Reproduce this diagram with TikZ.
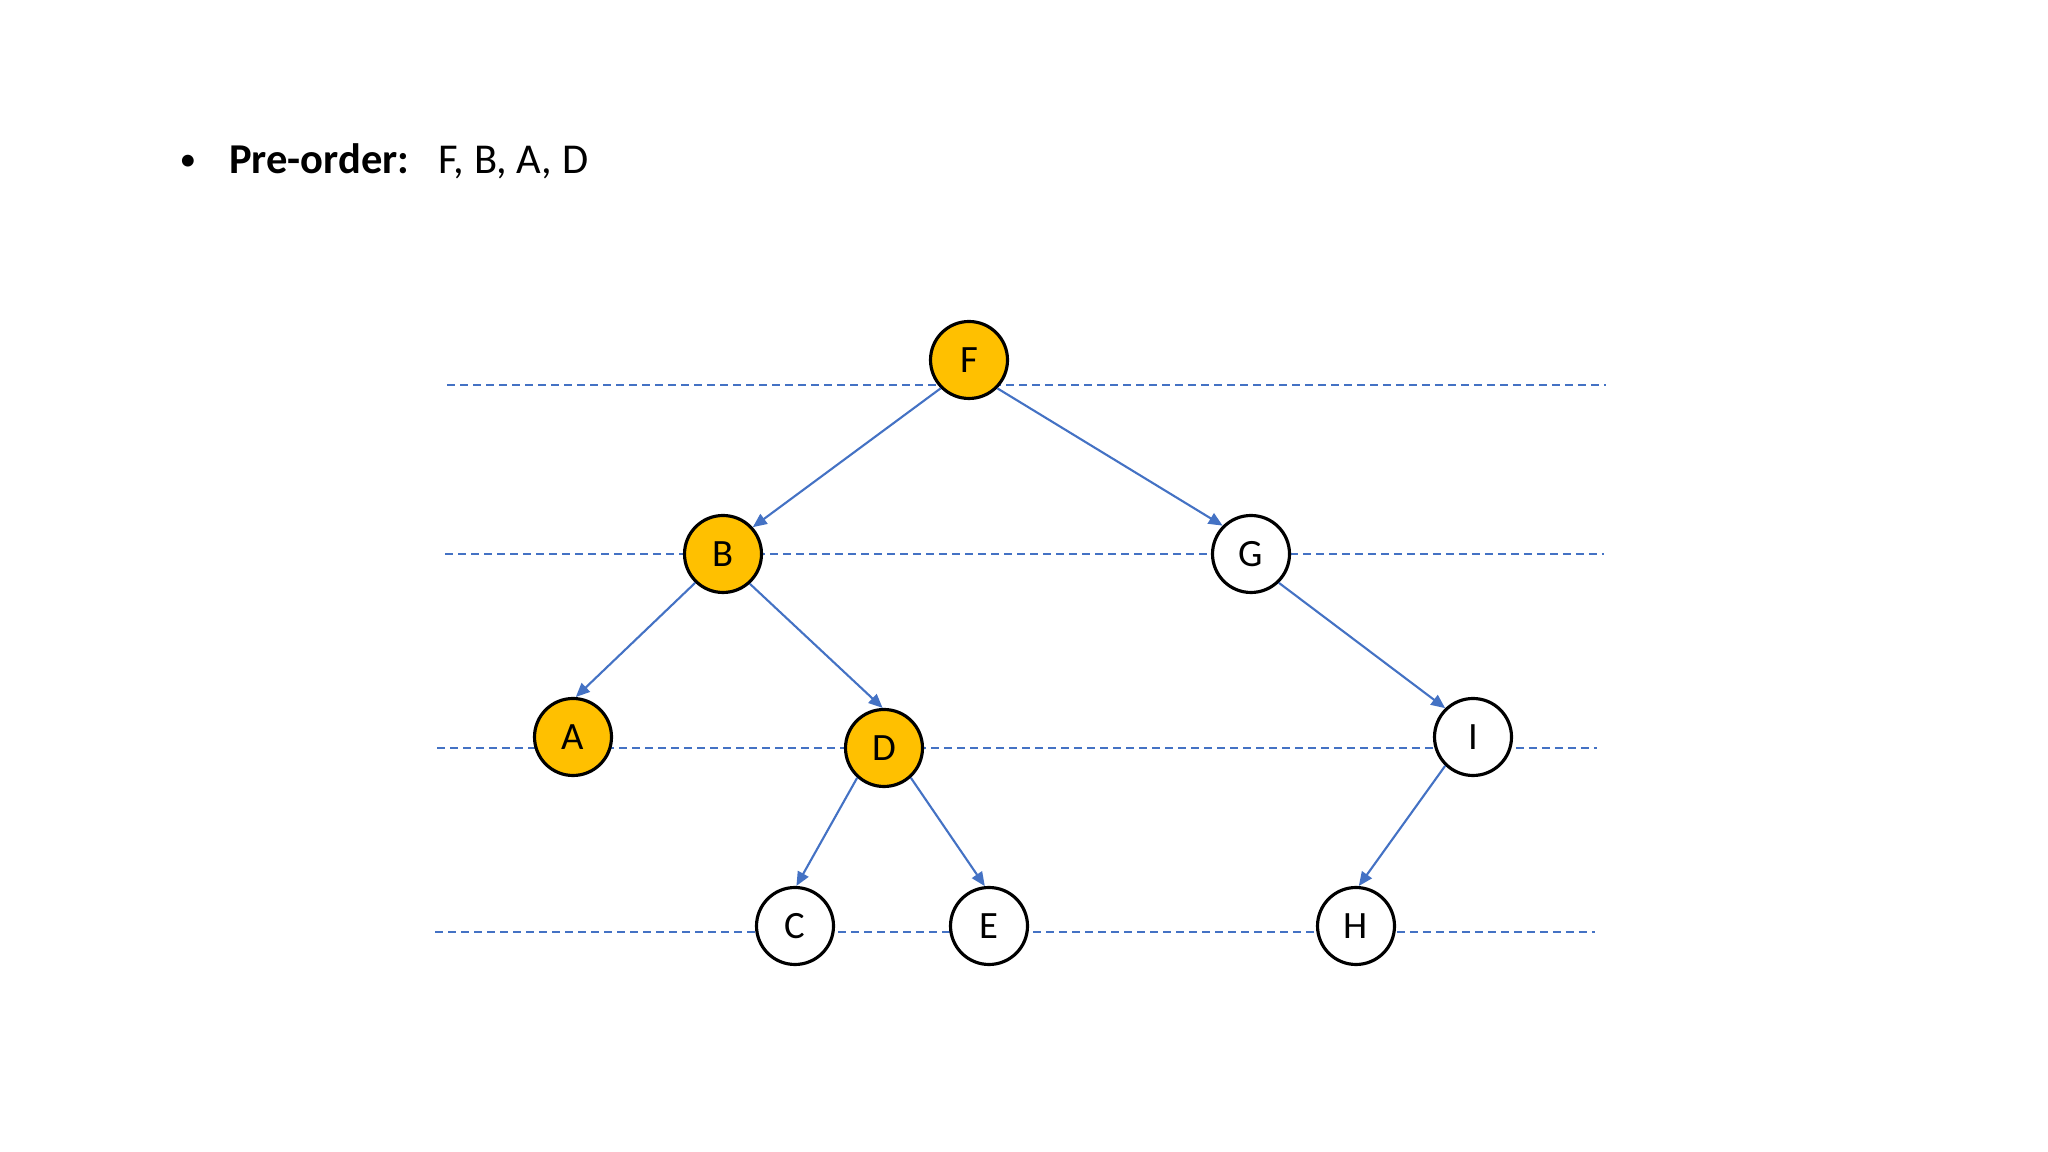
\documentclass[tikz,border=0pt]{standalone}
\usepackage{fontspec}
\setmainfont{Carlito}
\usepackage{tikz}
\definecolor{visitfill}{HTML}{FFC000}
\definecolor{linkblue}{HTML}{4472C4}
\usetikzlibrary{arrows.meta}

\begin{document}
\begin{tikzpicture}[x=0.1mm, y=-0.1mm,
      nd/.style={circle, draw, line width=0.9pt, minimum size=7.7mm, inner sep=0pt, fill=white, font=\fontsize{11}{13}\selectfont},
      visited/.style={nd, fill=visitfill},
      edge/.style={draw=linkblue, line width=0.6pt, -{Triangle[length=1.4mm, width=1.2mm]}},
      level/.style={draw=linkblue, line width=0.6pt, dash pattern=on 0.8mm off 0.5mm}]
    \useasboundingbox (0,0) rectangle (2048,1152);
    % heading
    \node[anchor=base west, font=\fontsize{12.1}{15}\selectfont, inner sep=0pt] (title) at (179,174)
      {\raisebox{0.35mm}{\fontsize{9.5}{10}\selectfont\textbullet}\hspace{3.3mm}\textbf{Pre-order:}\hspace{2.9mm}F, B, A, D};
    % level guides
    \coordinate (l1a) at (447,385); \coordinate (l1b) at (1606,385);
    \coordinate (l2a) at (445,554); \coordinate (l2b) at (1604,554);
    \coordinate (l3a) at (437,748); \coordinate (l3b) at (1597,748);
    \coordinate (l4a) at (435,932); \coordinate (l4b) at (1595,932);
    \draw[level] (l1a) -- (l1b);
    \draw[level] (l2a) -- (l2b);
    \draw[level] (l3a) -- (l3b);
    \draw[level] (l4a) -- (l4b);
    % tree
    \node[visited] (F) at (969,360) {F};
    \node[visited] (B) at (723,554) {B};
    \node[nd] (G) at (1251,554) {G};
    \node[visited] (A) at (573,737) {A};
    \node[visited] (D) at (884,748) {D};
    \node[nd] (I) at (1473,737) {I};
    \node[nd] (C) at (795,926) {C};
    \node[nd] (E) at (989,926) {E};
    \node[nd] (H) at (1356,926) {H};
    \draw[edge] (F.225) -- (B.42);
    \draw[edge] (F.-45) -- (G.135);
    \draw[edge] (B.226) -- (A.86);
    \draw[edge] (B.-48) -- (D.92);
    \draw[edge] (G.-46) -- (I.134);
    \draw[edge] (D.228) -- (C.88);
    \draw[edge] (D.-48) -- (E.96);
    \draw[edge] (I.226) -- (H.86);
  \end{tikzpicture}
\end{document}
